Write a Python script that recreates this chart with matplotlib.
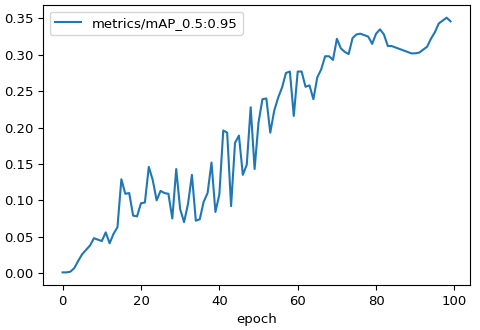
import numpy as np
import matplotlib
matplotlib.use('Agg')
import matplotlib.pyplot as plt

# mAP per epoch
epoch = np.arange(100)
map_50_95 = [0.001, 0.001, 0.002, 0.007, 0.017, 0.026, 0.032, 0.038, 0.048, 0.046,
             0.044, 0.056, 0.041, 0.054, 0.063, 0.129, 0.109, 0.110, 0.079, 0.078,
             0.096, 0.097, 0.146, 0.128, 0.100, 0.113, 0.110, 0.109, 0.075, 0.143,
             0.088, 0.070, 0.095, 0.135, 0.072, 0.074, 0.098, 0.110, 0.152, 0.084,
             0.108, 0.196, 0.193, 0.092, 0.179, 0.189, 0.135, 0.149, 0.228, 0.143,
             0.207, 0.239, 0.240, 0.193, 0.223, 0.241, 0.255, 0.275, 0.277, 0.216,
             0.277, 0.277, 0.256, 0.258, 0.239, 0.269, 0.280, 0.298, 0.298, 0.293,
             0.322, 0.309, 0.304, 0.301, 0.323, 0.328, 0.329, 0.327, 0.325, 0.315,
             0.329, 0.335, 0.328, 0.312, 0.312, 0.310, 0.308, 0.306, 0.304, 0.302,
             0.302, 0.303, 0.307, 0.311, 0.322, 0.331, 0.343, 0.347, 0.351, 0.346]
label = 'metrics/mAP_0.5:0.95'

plt.rcParams['font.size'] = 9.5
fig = plt.figure(figsize=(4.8, 3.3), dpi=100)
ax = fig.add_axes([0.090, 0.136, 0.889, 0.849])
ax.plot(epoch, map_50_95, color='tab:blue', lw=1.5, label=label)
ax.set_xlabel('epoch')
ax.legend(loc='upper left')

fig.savefig('out.png', dpi=100)
